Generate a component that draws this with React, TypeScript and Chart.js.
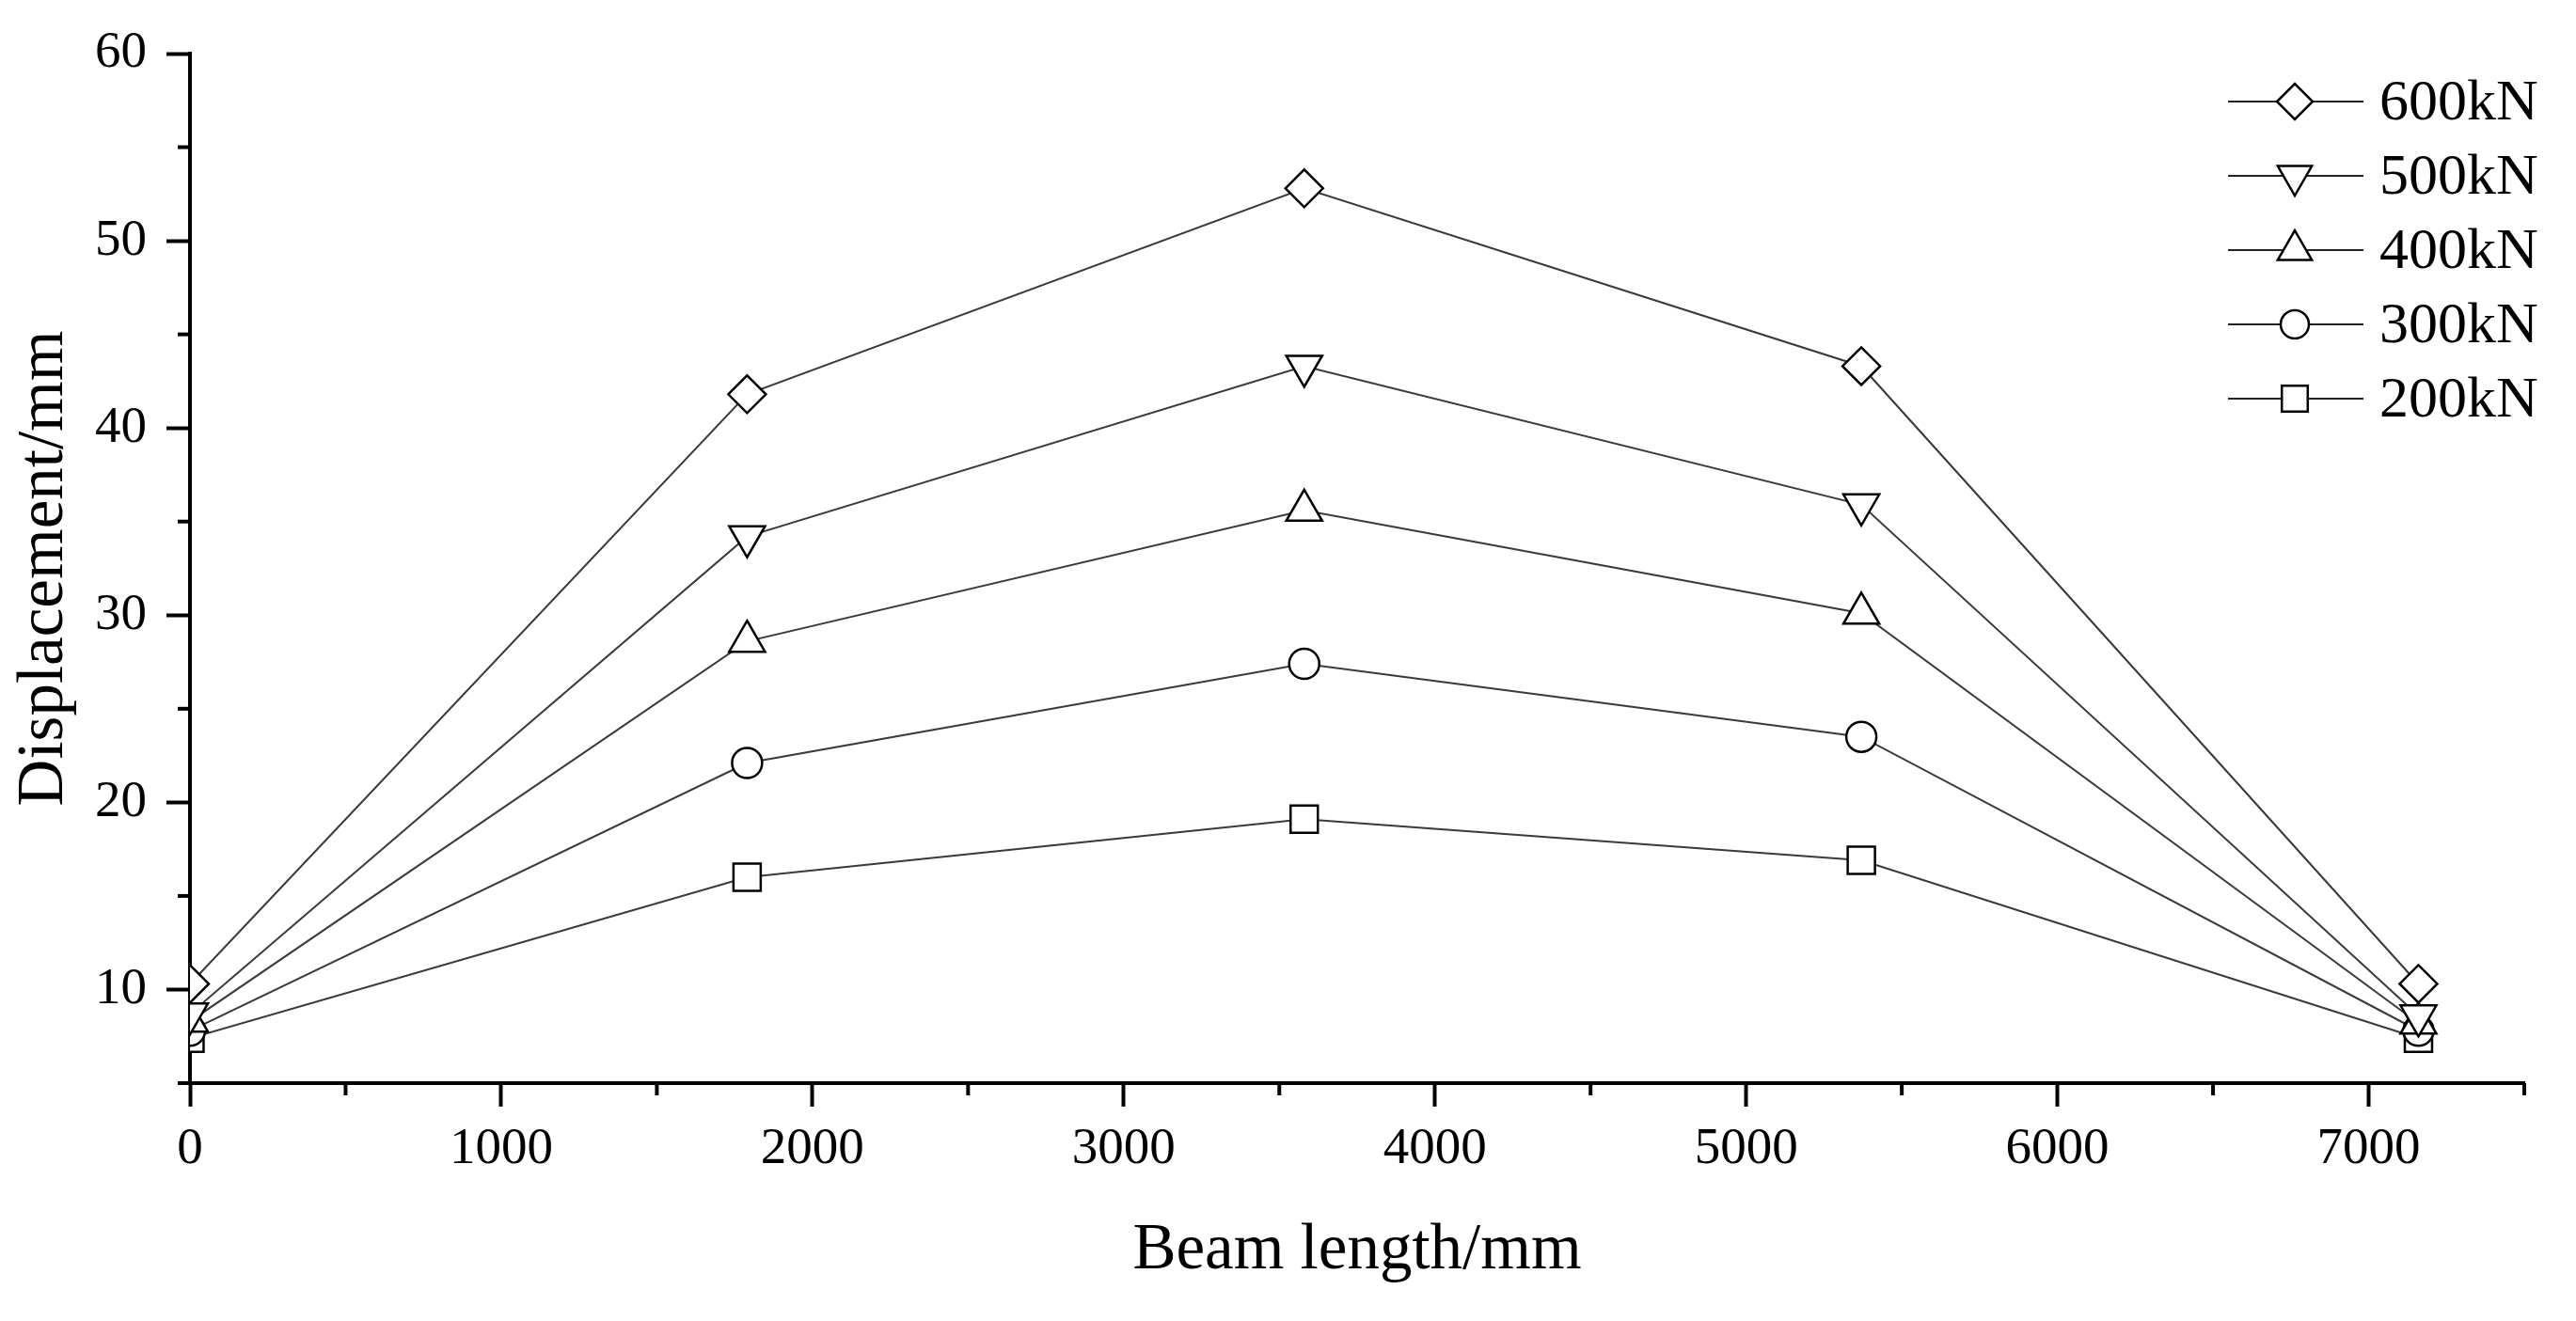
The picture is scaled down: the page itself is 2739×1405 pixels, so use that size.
import { useEffect, useRef } from "react"
import { Chart, registerables } from "chart.js"
import { drawPoint } from "chart.js/helpers"

Chart.register(...registerables)

// beam positions (mm) and mid-span displacement (mm) per load level
const beamLength = [0, 1790, 3580, 5370, 7160]
const disp600 = [10.3, 41.8, 52.8, 43.3, 10.3]
const disp500 = [8.7, 34.2, 43.3, 35.9, 8.6]
const disp400 = [8.3, 28.6, 35.6, 30.1, 8.2]
const disp300 = [7.8, 22.1, 27.4, 23.5, 7.8]
const disp200 = [7.4, 16.0, 19.1, 16.9, 7.4]
const loadLabels = ["600kN", "500kN", "400kN", "300kN", "200kN"]

const xMajorTicks = [0, 1000, 2000, 3000, 4000, 5000, 6000, 7000]
const xMinorTicks = [500, 1500, 2500, 3500, 4500, 5500, 6500, 7500]
const yMajorTicks = [10, 20, 30, 40, 50, 60]
const yMinorTicks = [5, 15, 25, 35, 45, 55]

const FONT = "'Liberation Serif', 'Times New Roman', serif"

const markerStyles = [
  { pointStyle: "rectRot", radius: 20, rotation: 0 },
  { pointStyle: "triangle", radius: 22, rotation: 180 },
  { pointStyle: "triangle", radius: 22, rotation: 0 },
  { pointStyle: "circle", radius: 16, rotation: 0 },
  { pointStyle: "rect", radius: 20.5, rotation: 0 },
]

// Origin-style short outward minor ticks
const minorTicks = {
  id: "minorTicks",
  afterDraw(chart: any) {
    const { ctx, chartArea, scales } = chart
    ctx.save()
    ctx.strokeStyle = "#000"
    ctx.lineWidth = 4
    for (const v of xMinorTicks) {
      const px = scales.x.getPixelForValue(v)
      ctx.beginPath()
      ctx.moveTo(px, chartArea.bottom)
      ctx.lineTo(px, chartArea.bottom + 13)
      ctx.stroke()
    }
    for (const v of yMinorTicks) {
      const py = scales.y.getPixelForValue(v)
      ctx.beginPath()
      ctx.moveTo(chartArea.left, py)
      ctx.lineTo(chartArea.left - 13, py)
      ctx.stroke()
    }
    ctx.restore()
  },
}

// legend with a line through each marker
const lineLegend = {
  id: "lineLegend",
  afterDraw(chart: any) {
    const { ctx } = chart
    ctx.save()
    chart.data.datasets.forEach((ds: any, i: number) => {
      const y = 108 + i * 79
      ctx.strokeStyle = "#222"
      ctx.lineWidth = 2
      ctx.beginPath()
      ctx.moveTo(2369, y)
      ctx.lineTo(2513, y)
      ctx.stroke()
      ctx.fillStyle = "#fff"
      ctx.strokeStyle = "#000"
      ctx.lineWidth = 2.5
      const m = markerStyles[i]
      drawPoint(ctx, { pointStyle: m.pointStyle as any, radius: m.radius - 1, rotation: m.rotation, borderWidth: 2.5 }, 2440, y)
      ctx.fillStyle = "#000"
      ctx.font = `62px ${FONT}`
      ctx.textAlign = "left"
      ctx.textBaseline = "middle"
      ctx.fillText(ds.label, 2530, y + 3)
    })
    ctx.restore()
  },
}

export default function App() {
  const chartRef = useRef<HTMLCanvasElement>(null)
  const chartInstance = useRef<Chart | null>(null)

  useEffect(() => {
    document.body.style.margin = "0"
    document.body.style.overflow = "hidden"
    if (!chartRef.current) return
    if (chartInstance.current) chartInstance.current.destroy()

    const series = [disp600, disp500, disp400, disp300, disp200]

    chartInstance.current = new Chart(chartRef.current, {
      type: "line",
      data: {
        datasets: series.map((values, i) => ({
          label: loadLabels[i],
          data: beamLength.map((x, j) => ({ x, y: values[j] })),
          borderColor: "#3a3a3a",
          borderWidth: 2,
          pointStyle: markerStyles[i].pointStyle as any,
          pointRadius: markerStyles[i].radius,
          pointRotation: markerStyles[i].rotation,
          pointBackgroundColor: "#fff",
          pointBorderColor: "#000",
          pointBorderWidth: 2.5,
          tension: 0,
          clip: 0,
        })),
      },
      options: {
        responsive: false,
        animation: false,
        devicePixelRatio: 1,
        layout: { padding: { top: 57, right: 55, left: 0, bottom: 0 } },
        plugins: {
          legend: { display: false },
          tooltip: { enabled: false },
        },
        scales: {
          x: {
            type: "linear",
            min: 0,
            max: 7500,
            afterBuildTicks: (scale: any) => {
              scale.ticks = xMajorTicks.map((value) => ({ value }))
            },
            afterFit: (scale: any) => {
              scale.height = 253
            },
            border: { display: true, color: "#000", width: 4 },
            grid: { drawOnChartArea: false, drawTicks: true, tickLength: 25, tickWidth: 4, tickColor: "#000" },
            ticks: {
              color: "#000",
              padding: 13,
              maxRotation: 0,
              font: { family: FONT, size: 55 },
              callback: (v: any) => String(v),
            },
            title: {
              display: true,
              text: "Beam length/mm",
              color: "#000",
              font: { family: FONT, size: 69 },
              padding: { top: 0, bottom: 33 },
            },
          },
          y: {
            type: "linear",
            min: 5,
            max: 60,
            afterBuildTicks: (scale: any) => {
              scale.ticks = yMajorTicks.map((value) => ({ value }))
            },
            afterFit: (scale: any) => {
              scale.width = 202
            },
            border: { display: true, color: "#000", width: 4 },
            grid: { drawOnChartArea: false, drawTicks: true, tickLength: 25, tickWidth: 4, tickColor: "#000" },
            ticks: {
              color: "#000",
              padding: 21,
              font: { family: FONT, size: 55 },
              callback: (v: any) => String(v),
            },
            title: {
              display: true,
              text: "Displacement/mm",
              color: "#000",
              font: { family: FONT, size: 69 },
              padding: { top: 6, bottom: 0 },
            },
          },
        },
      },
      plugins: [minorTicks, lineLegend],
    })

    return () => {
      if (chartInstance.current) {
        chartInstance.current.destroy()
        chartInstance.current = null
      }
    }
  }, [])

  return (
    <div style={{ width: 2739, height: 1405, background: "#fff" }}>
      <canvas ref={chartRef} width={2739} height={1405} style={{ display: "block" }} />
    </div>
  )
}
